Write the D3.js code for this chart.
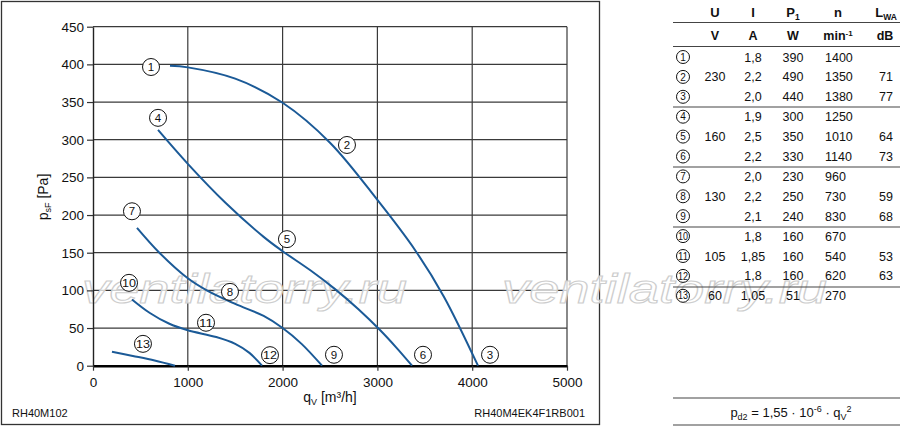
<!DOCTYPE html>
<html>
<head>
<meta charset="utf-8">
<script src="https://cdn.jsdelivr.net/npm/d3@7.9.0/dist/d3.min.js"></script>
<style>
  body { margin: 0; background: #fff; }
  svg { display: block; font-family: "Liberation Sans", Arial, sans-serif; }
</style>
</head>
<body>
<svg id="chart" width="900" height="429"></svg>
<script>
// axis ticks
const xTicks = [0, 1000, 2000, 3000, 4000, 5000];
const yTicks = [0, 50, 100, 150, 200, 250, 300, 350, 400, 450];

// fan curves, q in m3/h, p in Pa
const flow230 = [812, 1000, 1500, 2000, 2500, 3000, 3400, 3700, 4061];
const press230 = [398, 396, 381, 349, 296, 220, 153, 92, 0];
const flow160 = [686, 1000, 1400, 1800, 2000, 2300, 2550, 2800, 3030, 3200, 3365];
const press160 = [313, 268, 216, 171, 152, 126, 102, 75, 47, 24, 0];
const flow130 = [464, 700, 1000, 1200, 1500, 1800, 2000, 2200, 2416];
const press130 = [183, 150, 116, 100, 82, 66, 50, 29, 0];
const flow105 = [411, 600, 800, 1000, 1300, 1500, 1650, 1783];
const press105 = [88, 70, 56, 47, 38, 29, 17, 0];
const flow60 = [200, 420, 650, 865];
const press60 = [18.5, 13, 7, 0];

// numbered markers on the chart
const labelIds = [1, 2, 3, 4, 5, 6, 7, 8, 9, 10, 11, 12, 13];
const labelQ = [612, 2679, 4188, 686, 2046, 3481, 411, 1445, 2542, 380, 1192, 1867, 527];
const labelP = [396.5, 293, 14.5, 329, 168, 14.5, 205, 98, 14.5, 110, 57, 14, 29];

// table
const rowVoltage = ["", "230", "", "", "160", "", "", "130", "", "", "105", "", "60"];
const rowCurrent = ["1,8", "2,2", "2,0", "1,9", "2,5", "2,2", "2,0", "2,2", "2,1", "1,8", "1,85", "1,8", "1,05"];
const rowPower = [390, 490, 440, 300, 350, 330, 230, 250, 240, 160, 160, 160, 51];
const rowSpeed = [1400, 1350, 1380, 1250, 1010, 1140, 960, 730, 830, 670, 540, 620, 270];
const rowNoise = ["", "71", "77", "", "64", "73", "", "59", "68", "", "53", "63", ""];

const blue = "#1b5a97";
const svg = d3.select("#chart");

const x = d3.scaleLinear().domain([0, 5000]).range([93, 567]);
const y = d3.scaleLinear().domain([0, 450]).range([365.7, 26.7]);

// outer frame
svg.append("rect")
    .attr("x", 1.5).attr("y", 1.5)
    .attr("width", 598).attr("height", 423)
    .attr("fill", "none").attr("stroke", "#333").attr("stroke-width", 1.3);

// grid
let grid = svg.append("g").attr("stroke", "#3a3a3a").attr("stroke-width", 1.2);
grid.selectAll(".gx").data(xTicks.slice(1)).join("line")
    .attr("x1", d => x(d)).attr("x2", d => x(d))
    .attr("y1", y(0)).attr("y2", y(450));
grid.selectAll(".gy").data(yTicks.slice(1)).join("line")
    .attr("x1", x(0)).attr("x2", x(5000))
    .attr("y1", d => y(d)).attr("y2", d => y(d));

// watermark
let wm = svg.append("g")
    .attr("font-size", 40).attr("font-style", "italic")
    .attr("fill", "#fff").attr("fill-opacity", 0.75)
    .attr("stroke", "#cdcdcd").attr("stroke-width", 1);
[82, 502].forEach(px => {
    wm.append("text").attr("x", px).attr("y", 303)
        .attr("textLength", 325).attr("lengthAdjust", "spacingAndGlyphs")
        .text("ventilatorry.ru");
});

// axes
let xAxis = svg.append("g")
    .attr("transform", `translate(0,${y(0)})`)
    .call(d3.axisBottom(x).tickValues(xTicks).tickSize(5).tickSizeOuter(0).tickPadding(7).tickFormat(d3.format("d")));
xAxis.select(".domain").attr("stroke", "#000").attr("stroke-width", 2.6);
xAxis.selectAll(".tick line").attr("stroke", "#333").attr("stroke-width", 1.2);
xAxis.selectAll("text").attr("font-size", 13.5).attr("fill", "#111").attr("font-family", null);

let yAxis = svg.append("g")
    .attr("transform", `translate(${x(0)},0)`)
    .call(d3.axisLeft(y).tickValues(yTicks).tickSize(6).tickSizeOuter(0).tickPadding(3));
yAxis.select(".domain").attr("stroke", "#222").attr("stroke-width", 1.4);
yAxis.selectAll(".tick line").attr("stroke", "#333").attr("stroke-width", 1.2);
yAxis.selectAll("text").attr("font-size", 13.5).attr("fill", "#111").attr("font-family", null);

// axis titles
let yt = svg.append("text")
    .attr("transform", "translate(48,197) rotate(-90)")
    .attr("text-anchor", "middle").attr("font-size", 14).attr("fill", "#111");
yt.append("tspan").text("p");
yt.append("tspan").attr("font-size", 9).attr("dy", 3).text("sF");
yt.append("tspan").attr("dy", -3).text(" [Pa]");

let xt = svg.append("text")
    .attr("x", 330).attr("y", 402)
    .attr("text-anchor", "middle").attr("font-size", 14).attr("fill", "#111");
xt.append("tspan").text("q");
xt.append("tspan").attr("font-size", 9).attr("dy", 3).text("V");
xt.append("tspan").attr("dy", -3).text(" [m³/h]");

svg.append("text").attr("x", 12).attr("y", 417)
    .attr("font-size", 11).attr("fill", "#111").text("RH40M102");
svg.append("text").attr("x", 585).attr("y", 417).attr("text-anchor", "end")
    .attr("font-size", 11).attr("fill", "#111").text("RH40M4EK4F1RB001");

// curves
const line = d3.line()
    .x(d => x(d[0])).y(d => y(d[1]))
    .curve(d3.curveCatmullRom.alpha(0.5));
const series = [
    d3.zip(flow230, press230),
    d3.zip(flow160, press160),
    d3.zip(flow130, press130),
    d3.zip(flow105, press105),
    d3.zip(flow60, press60)
];
svg.append("g").selectAll("path").data(series).join("path")
    .attr("d", line)
    .attr("fill", "none").attr("stroke", blue).attr("stroke-width", 2);

// circled numbers
function circled(g, id, r, fs) {
    g.append("circle").attr("r", r)
        .attr("fill", "#fff").attr("stroke", "#111").attr("stroke-width", 1);
    let t = g.append("text")
        .attr("text-anchor", "middle").attr("dy", "0.36em")
        .attr("font-size", fs)
        .attr("fill", "#111")
        .text(id);
    if (id > 9) {
        t.attr("textLength", 2 * r - 3).attr("lengthAdjust", "spacingAndGlyphs");
    }
}
labelIds.forEach((id, i) => {
    let g = svg.append("g").attr("transform", `translate(${x(labelQ[i])},${y(labelP[i])})`);
    circled(g, id, 8.5, 11.5);
});

// table
const colCirc = 683, colU = 715, colI = 753, colP = 793, colN = 825, colL = 886;
const rowY = i => 57 + 19.9 * i;

let tab = svg.append("g").attr("fill", "#111");
let hdr = tab.append("g").attr("font-weight", "bold").attr("font-size", 13).attr("text-anchor", "middle");
hdr.append("text").attr("x", colU).attr("y", 17).text("U");
hdr.append("text").attr("x", colI).attr("y", 17).text("I");
let hp = hdr.append("text").attr("x", colP).attr("y", 17);
hp.append("tspan").text("P");
hp.append("tspan").attr("font-size", 8.5).attr("dy", 3).text("1");
hdr.append("text").attr("x", 838).attr("y", 17).text("n");
let hl = hdr.append("text").attr("x", 886).attr("y", 17);
hl.append("tspan").text("L");
hl.append("tspan").attr("font-size", 8.5).attr("dy", 3).text("WA");

let units = tab.append("g").attr("font-weight", "bold").attr("font-size", 12.5).attr("text-anchor", "middle");
units.append("text").attr("x", colU).attr("y", 40).text("V");
units.append("text").attr("x", colI).attr("y", 40).text("A");
units.append("text").attr("x", colP).attr("y", 40).text("W");
let um = units.append("text").attr("x", 838).attr("y", 40);
um.append("tspan").text("min");
um.append("tspan").attr("font-size", 8).attr("dy", -4).text("-1");
units.append("text").attr("x", 885).attr("y", 40).text("dB");

// table rules
const ruleY = [22.5, 46.5, 107, 167, 227, 287, 398, 425];
svg.append("g").selectAll("line").data(ruleY).join("line")
    .attr("x1", 673).attr("x2", 900)
    .attr("y1", d => d).attr("y2", d => d)
    .attr("stroke", "#444").attr("stroke-width", 1.1);

let rows = tab.append("g").attr("font-size", 12.5);
labelIds.forEach((id, i) => {
    let yy = rowY(i);
    let g = rows.append("g").attr("transform", `translate(${colCirc},${yy})`);
    circled(g, id, 6.5, 10);
    rows.append("text").attr("x", colU).attr("y", yy + 4.5).attr("text-anchor", "middle").text(rowVoltage[i]);
    rows.append("text").attr("x", colI).attr("y", yy + 4.5).attr("text-anchor", "middle").text(rowCurrent[i]);
    rows.append("text").attr("x", colP).attr("y", yy + 4.5).attr("text-anchor", "middle").text(rowPower[i]);
    rows.append("text").attr("x", colN).attr("y", yy + 4.5).text(rowSpeed[i]);
    rows.append("text").attr("x", colL).attr("y", yy + 4.5).attr("text-anchor", "middle").text(rowNoise[i]);
});

// dynamic pressure formula
let f = svg.append("text").attr("x", 791).attr("y", 417)
    .attr("text-anchor", "middle").attr("font-size", 13).attr("fill", "#111");
f.append("tspan").text("p");
f.append("tspan").attr("font-size", 9).attr("dy", 3).text("d2");
f.append("tspan").attr("dy", -3).text(" = 1,55 · 10");
f.append("tspan").attr("font-size", 9).attr("dy", -5).text("-6");
f.append("tspan").attr("dy", 5).text(" · q");
f.append("tspan").attr("font-size", 9).attr("dy", 3).text("V");
f.append("tspan").attr("font-size", 9).attr("dy", -8).text("2");
</script>
</body>
</html>
